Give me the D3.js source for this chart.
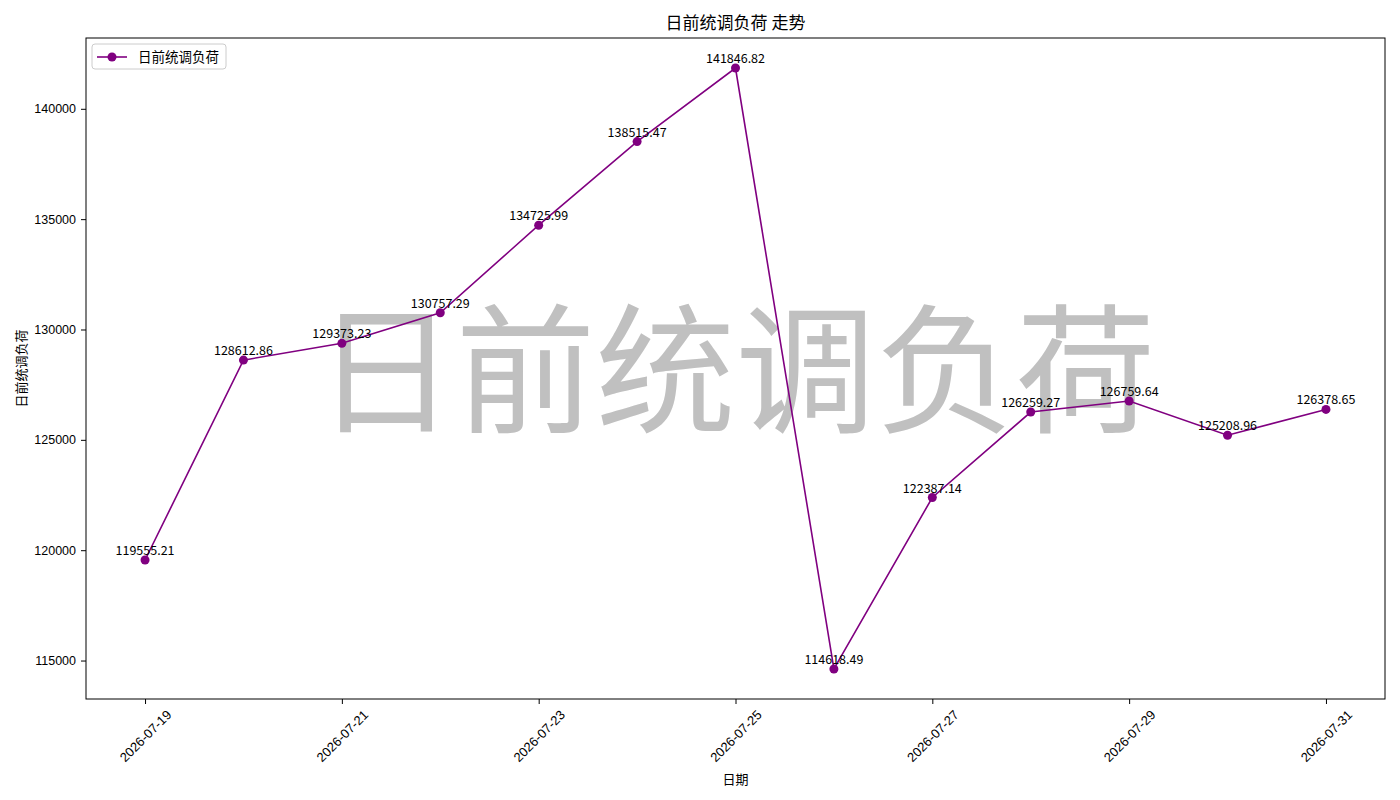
<!DOCTYPE html>
<html>
<head>
<meta charset="utf-8">
<script src="https://cdn.jsdelivr.net/npm/d3@7"></script>
<style>
  body { margin: 0; background: #fff; }
  svg { font-family: "Noto Sans CJK SC", "DejaVu Sans", sans-serif; }
</style>
</head>
<body>
<svg id="chart" width="1400" height="800"></svg>
<script>
// Chart data
const dates = ['2026-07-19', '2026-07-20', '2026-07-21', '2026-07-22', '2026-07-23', '2026-07-24', '2026-07-25',
  '2026-07-26', '2026-07-27', '2026-07-28', '2026-07-29', '2026-07-30', '2026-07-31'];
const loads = [119555.21, 128612.86, 129373.23, 130757.29, 134725.99, 138515.47, 141846.82,
  114618.49, 122387.14, 126259.27, 126759.64, 125208.96, 126378.65];
const xTicks = ['2026-07-19', '2026-07-21', '2026-07-23', '2026-07-25', '2026-07-27', '2026-07-29', '2026-07-31'];
const yTicks = [115000, 120000, 125000, 130000, 135000, 140000];
const seriesName = '日前统调负荷';

const margin = { top: 38, right: 15, bottom: 101, left: 86 };
const width = 1400, height = 800;
const color = '#800080';

const parse = d3.utcParse('%Y-%m-%d');
const points = dates.map((d, i) => ({ date: parse(d), value: loads[i] }));

const svg = d3.select('#chart');

// matplotlib-style 5% padding
const xExt = d3.extent(points, d => d.date);
const xPad = (xExt[1] - xExt[0]) * 0.05;
const x = d3.scaleUtc()
  .domain([new Date(+xExt[0] - xPad), new Date(+xExt[1] + xPad)])
  .range([margin.left, width - margin.right]);

const yExt = d3.extent(loads);
const yPad = (yExt[1] - yExt[0]) * 0.05;
const y = d3.scaleLinear()
  .domain([yExt[0] - yPad, yExt[1] + yPad])
  .range([height - margin.bottom, margin.top]);

// Watermark
svg.append('text')
  .attr('x', (margin.left + width - margin.right) / 2)
  .attr('y', 361)
  .attr('text-anchor', 'middle')
  .attr('dominant-baseline', 'central')
  .attr('fill', '#c0c0c0')
  .attr('font-size', '140px')
  .text(seriesName);

// Axes
const xAxis = svg.append('g')
  .attr('transform', `translate(0,${height - margin.bottom})`)
  .call(d3.axisBottom(x).tickValues(xTicks.map(parse)).tickFormat(d3.utcFormat('%Y-%m-%d')).tickSizeOuter(0).tickSize(5));
xAxis.select('.domain').remove();
xAxis.selectAll('text')
  .attr('font-size', '13px')
  .attr('fill', '#000')
  .attr('text-anchor', 'middle')
  .attr('x', 0)
  .attr('y', 0)
  .attr('dy', '0.35em')
  .attr('transform', 'translate(0,37) rotate(-45)');

const yAxis = svg.append('g')
  .attr('transform', `translate(${margin.left},0)`)
  .call(d3.axisLeft(y).tickValues(yTicks).tickFormat(d3.format('d')).tickSizeOuter(0).tickSize(5).tickPadding(5));
yAxis.select('.domain').remove();
yAxis.selectAll('text').attr('font-size', '12.5px').attr('fill', '#000');

// Frame
svg.append('rect')
  .attr('x', margin.left)
  .attr('y', margin.top)
  .attr('width', width - margin.left - margin.right)
  .attr('height', height - margin.top - margin.bottom)
  .attr('fill', 'none')
  .attr('stroke', '#000')
  .attr('stroke-width', 1);

// Line and markers
svg.append('path')
  .datum(points)
  .attr('fill', 'none')
  .attr('stroke', color)
  .attr('stroke-width', 1.6)
  .attr('d', d3.line().x(d => x(d.date)).y(d => y(d.value)));

svg.append('g')
  .selectAll('circle')
  .data(points)
  .join('circle')
  .attr('cx', d => x(d.date))
  .attr('cy', d => y(d.value))
  .attr('r', 4.5)
  .attr('fill', color);

// Value labels
svg.append('g')
  .selectAll('text')
  .data(points)
  .join('text')
  .attr('x', d => x(d.date))
  .attr('y', d => y(d.value) - 5)
  .attr('text-anchor', 'middle')
  .attr('font-size', '12.5px')
  .attr('fill', '#000')
  .text(d => d.value.toFixed(2));

// Title and axis labels
svg.append('text')
  .attr('x', (margin.left + width - margin.right) / 2)
  .attr('y', 29)
  .attr('text-anchor', 'middle')
  .attr('font-size', '17px')
  .text(seriesName + ' 走势');

svg.append('text')
  .attr('x', (margin.left + width - margin.right) / 2)
  .attr('y', 784)
  .attr('text-anchor', 'middle')
  .attr('font-size', '13px')
  .text('日期');

svg.append('text')
  .attr('transform', `translate(26,${(margin.top + height - margin.bottom) / 2}) rotate(-90)`)
  .attr('text-anchor', 'middle')
  .attr('font-size', '13px')
  .text(seriesName);

// Legend
const legend = svg.append('g').attr('transform', `translate(${margin.left + 6},${margin.top + 6})`);
legend.append('rect')
  .attr('width', 134)
  .attr('height', 25)
  .attr('rx', 3)
  .attr('fill', '#fff')
  .attr('fill-opacity', 0.8)
  .attr('stroke', '#ccc');
legend.append('line')
  .attr('x1', 5).attr('x2', 35)
  .attr('y1', 13).attr('y2', 13)
  .attr('stroke', color)
  .attr('stroke-width', 1.6);
legend.append('circle')
  .attr('cx', 20).attr('cy', 13).attr('r', 4.5)
  .attr('fill', color);
legend.append('text')
  .attr('x', 46).attr('y', 13)
  .attr('dy', '0.35em')
  .attr('font-size', '13.5px')
  .text(seriesName);
</script>
</body>
</html>
